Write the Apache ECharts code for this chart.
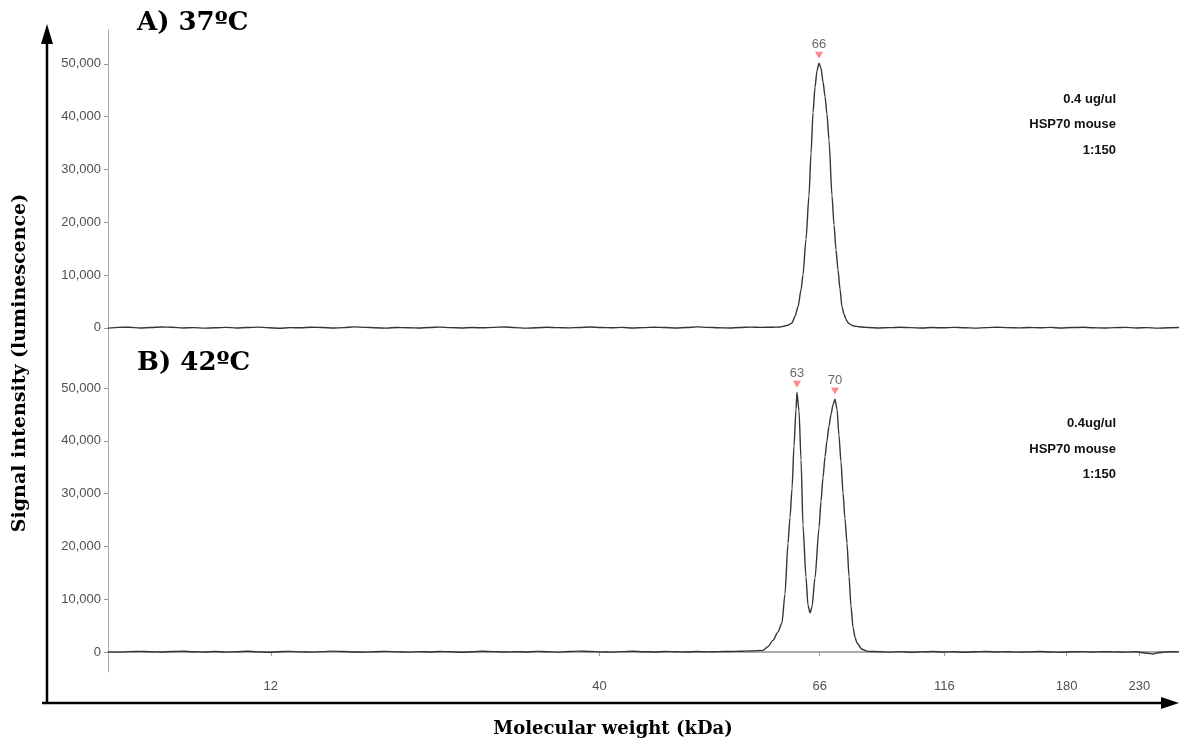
<!DOCTYPE html>
<html>
<head>
<meta charset="utf-8">
<script src="https://cdn.jsdelivr.net/npm/echarts@6/dist/echarts.min.js"></script>
<style>html,body{margin:0;padding:0;background:#fff}#c{width:1179px;height:743px}</style>
</head>
<body>
<div id="c"></div>
<script>
// x positions are relative migration along the capillary (0-100 %)
const ladderKDa = [12, 40, 66, 116, 180, 230];
const ladderPos = [15.2, 45.9, 66.45, 78.1, 89.5, 96.3];
const yTicks = [0, 10000, 20000, 30000, 40000, 50000];

// Panel A: 37 ºC
const seriesA = [
  [0,-50],[1,80],[2,120],[3,-40],[4,60],[5,150],[6,100],[7,-20],[8,40],[9,-60],[10,0],[11,90],[12,-30],[13,50],[14,130],[15,20],[16,-80],[17,40],[18,0],[19,110],[20,60],[21,-40],[22,30],[23,180],[24,90],[25,10],[26,-50],[27,70],[28,20],[29,-30],[30,60],[31,140],[32,30],[33,-20],[34,50],[35,0],[36,90],[37,160],[38,40],[39,-60],[40,20],[41,100],[42,30],[43,-10],[44,70],[45,150],[46,60],[47,0],[48,80],[49,-40],[50,40],[51,120],[52,50],[53,-20],[54,60],[55,170],[56,90],[57,20],[58,-30],[59,60],[60,130],[61,80],[62,110],
  [62.75,150],[63.12,300],[63.49,500],[63.68,700],[63.87,950],[64.15,2200],[64.43,4000],[64.71,7200],[64.89,10000],[65.17,16700],[65.45,25000],[65.64,33000],[65.83,40800],[66.01,45500],[66.2,48700],[66.39,50100],[66.57,49200],[66.76,46600],[66.95,43800],[67.13,40500],[67.32,35600],[67.6,25000],[67.79,19500],[67.97,14800],[68.16,11000],[68.35,7300],[68.53,4000],[68.72,2600],[68.91,1600],[69.09,950],[69.37,550],[69.65,350],[70.12,200],[70.59,100],
  [71,60],[72,-20],[73,40],[74,110],[75,30],[76,-40],[77,50],[78,0],[79,90],[80,20],[81,-50],[82,40],[83,120],[84,30],[85,-10],[86,60],[87,0],[88,80],[89,-30],[90,50],[91,100],[92,10],[93,-40],[94,30],[95,90],[96,-20],[97,40],[98,-60],[99,20],[100,50]
];

// Panel B: 42 ºC
const seriesB = [
  [0,20],[1,-40],[2,60],[3,110],[4,30],[5,-20],[6,70],[7,140],[8,40],[9,0],[10,90],[11,-30],[12,50],[13,120],[14,20],[15,-50],[16,40],[17,100],[18,10],[19,-40],[20,60],[21,150],[22,80],[23,0],[24,-30],[25,50],[26,110],[27,20],[28,-40],[29,60],[30,0],[31,90],[32,30],[33,-50],[34,40],[35,120],[36,60],[37,-10],[38,50],[39,0],[40,100],[41,40],[42,-30],[43,70],[44,160],[45,90],[46,20],[47,-40],[48,60],[49,130],[50,50],[51,0],[52,80],[53,30],[54,-20],[55,70],[56,10],[57,60],[58,90],[59,120],[60,200],
  [61.16,300],[61.62,1000],[62.09,2200],[62.56,3800],[62.93,5500],[63.21,11000],[63.49,20500],[63.68,25500],[63.87,31000],[64.05,39000],[64.24,46000],[64.33,49200],[64.52,45600],[64.71,36400],[64.89,24000],[65.17,14200],[65.36,8800],[65.55,7400],[65.73,8500],[66.01,14000],[66.39,23500],[66.57,28500],[66.76,33000],[66.95,37000],[67.13,40000],[67.32,42800],[67.51,45000],[67.69,46800],[67.88,47900],[68.07,46000],[68.25,41000],[68.44,36000],[68.63,30100],[68.81,25300],[69.0,20600],[69.19,14300],[69.37,8700],[69.56,4700],[69.75,2800],[69.93,1700],[70.4,500],[70.96,100],
  [72,40],[73,-30],[74,60],[75,-60],[76,20],[77,80],[78,-20],[79,40],[80,-50],[81,30],[82,90],[83,-10],[84,50],[85,-40],[86,20],[87,70],[88,0],[89,-60],[90,30],[91,60],[92,-20],[93,40],[94,10],[95,-30],[96,50],[97,-250],[97.6,-400],[98,-150],[99,40],[100,20]
];

const peaksA = [[66.39, 50100]];
const peakLabelsA = [66];
const peaksB = [[64.33, 49200], [67.88, 47900]];
const peakLabelsB = [63, 70];

const notesA = ['0.4 ug/ul', 'HSP70 mouse', '1:150'];
const notesB = ['0.4ug/ul', 'HSP70 mouse', '1:150'];

const chart = echarts.init(document.getElementById('c'), null, {renderer: 'canvas'});

const lbl = {color: '#505050', fontFamily: 'Liberation Sans, Arial, sans-serif', fontSize: 13};
const fmtY = v => v.toLocaleString('en-US');
const fmtX = v => {
  let best = 0;
  for (let i = 1; i < ladderPos.length; i++) if (Math.abs(ladderPos[i] - v) < Math.abs(ladderPos[best] - v)) best = i;
  return String(ladderKDa[best]);
};

function yAxis(idx, min, max) {
  return {
    type: 'value', gridIndex: idx, min: min, max: max,
    axisLine: {show: true, lineStyle: {color: '#aaa', width: 1}},
    axisTick: {show: true, length: 4, lineStyle: {color: '#999'}, customValues: yTicks},
    axisLabel: Object.assign({margin: 7, formatter: fmtY, customValues: yTicks}, lbl),
    splitLine: {show: false}
  };
}

function peakSeries(idx, pts, labels) {
  return {
    type: 'scatter', xAxisIndex: idx, yAxisIndex: idx, data: pts,
    symbol: 'triangle', symbolRotate: 180, symbolSize: [8, 7], symbolOffset: [0, -8],
    itemStyle: {color: '#ff6b6b'},
    label: Object.assign({show: true, position: 'top', distance: 1,
      formatter: p => String(labels[p.dataIndex])}, lbl, {color: '#444'}),
    silent: true, z: 5
  };
}

function notes(lines, y0) {
  return lines.map((t, i) => ({
    type: 'text', x: 1116, y: y0 + i * 25.5,
    style: {text: t, align: 'right', verticalAlign: 'middle', textAlign: 'right', textVerticalAlign: 'middle',
      font: 'bold 13px "Liberation Sans", Arial, sans-serif', fill: '#111'}
  }));
}

const serif = '"DejaVu Serif", serif';

chart.setOption({
  animation: false,
  backgroundColor: '#fff',
  grid: [
    {left: 108, right: 0, top: 30, height: 320},
    {left: 108, right: 0, top: 350, height: 322}
  ],
  xAxis: [
    {type: 'value', gridIndex: 0, min: 0, max: 100, show: false},
    {type: 'value', gridIndex: 1, min: 0, max: 100,
      axisLine: {show: true, lineStyle: {color: '#aaa', width: 2}},
      axisTick: {show: true, length: 4, lineStyle: {color: '#999'}, customValues: ladderPos},
      axisLabel: Object.assign({margin: 8, formatter: fmtX, customValues: ladderPos}, lbl),
      splitLine: {show: false}}
  ],
  yAxis: [yAxis(0, -4200, 56400), yAxis(1, -3800, 57200)],
  series: [
    {type: 'line', xAxisIndex: 0, yAxisIndex: 0, data: seriesA, showSymbol: false,
      smooth: 0.25, smoothMonotone: 'x', lineStyle: {color: '#353535', width: 1.4}, silent: true},
    {type: 'line', xAxisIndex: 1, yAxisIndex: 1, data: seriesB, showSymbol: false,
      smooth: 0.25, smoothMonotone: 'x', lineStyle: {color: '#353535', width: 1.4}, silent: true},
    peakSeries(0, peaksA, peakLabelsA),
    peakSeries(1, peaksB, peakLabelsB)
  ],
  graphic: [
    {type: 'line', shape: {x1: 47, y1: 704, x2: 47, y2: 40}, style: {stroke: '#000', lineWidth: 2.5}},
    {type: 'polygon', shape: {points: [[41, 44], [53, 44], [47, 24]]}, style: {fill: '#000'}},
    {type: 'line', shape: {x1: 42, y1: 703, x2: 1164, y2: 703}, style: {stroke: '#000', lineWidth: 2.5}},
    {type: 'polygon', shape: {points: [[1161, 697], [1161, 709], [1179, 703]]}, style: {fill: '#000'}},
    {type: 'text', x: 137, y: 23, style: {text: 'A) 37ºC', align: 'left', verticalAlign: 'middle',
      textAlign: 'left', textVerticalAlign: 'middle', font: 'bold 26px ' + serif, fill: '#000'}},
    {type: 'text', x: 137, y: 363, style: {text: 'B) 42ºC', align: 'left', verticalAlign: 'middle',
      textAlign: 'left', textVerticalAlign: 'middle', font: 'bold 26px ' + serif, fill: '#000'}},
    {type: 'text', x: 20, y: 363, rotation: Math.PI / 2, style: {text: 'Signal intensity (luminescence)',
      align: 'center', verticalAlign: 'middle', textAlign: 'center', textVerticalAlign: 'middle',
      font: 'bold 19px ' + serif, fill: '#000'}},
    {type: 'text', x: 613, y: 729, style: {text: 'Molecular weight (kDa)',
      align: 'center', verticalAlign: 'middle', textAlign: 'center', textVerticalAlign: 'middle',
      font: 'bold 18px ' + serif, fill: '#000'}}
  ].concat(notes(notesA, 99), notes(notesB, 423.5))
});
</script>
</body>
</html>
